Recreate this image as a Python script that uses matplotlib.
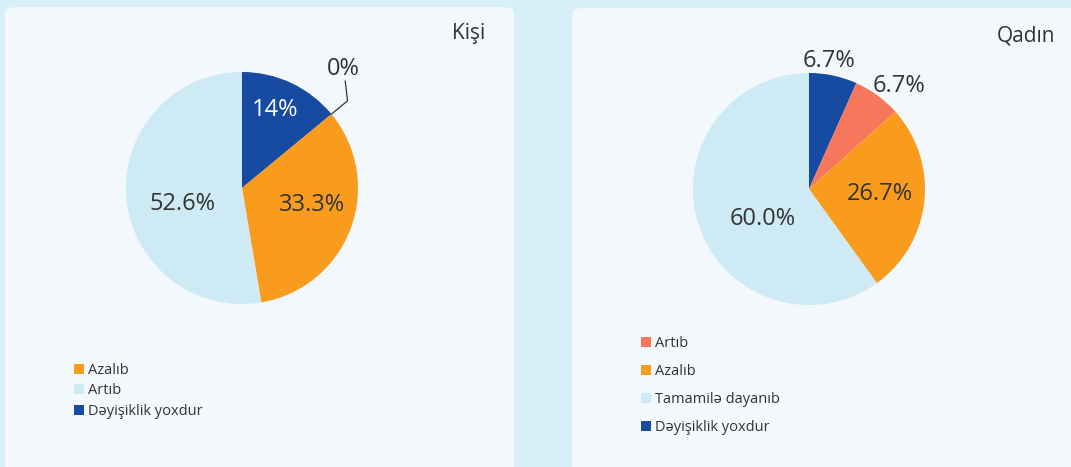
import numpy as np
import matplotlib.pyplot as plt
from matplotlib.patches import FancyBboxPatch

plt.rcParams['font.family'] = ['Open Sans', 'DejaVu Sans']

# Kişi
kisi_labels = ['Dəyişiklik yoxdur', 'Tamamilə dayanıb', 'Azalıb', 'Artıb']
kisi_values = [14.0, 0.0, 33.3, 52.6]
kisi_text = ['14%', '0%', '33.3%', '52.6%']
kisi_legend = ['Azalıb', 'Artıb', 'Dəyişiklik yoxdur']

# Qadın
qadin_labels = ['Dəyişiklik yoxdur', 'Artıb', 'Azalıb', 'Tamamilə dayanıb']
qadin_values = [6.7, 6.7, 26.7, 60.0]
qadin_text = ['6.7%', '6.7%', '26.7%', '60.0%']
qadin_legend = ['Artıb', 'Azalıb', 'Tamamilə dayanıb', 'Dəyişiklik yoxdur']

renk = {'Dəyişiklik yoxdur': '#174aa1', 'Azalıb': '#f99b1c',
        'Tamamilə dayanıb': '#f7775c', 'Artıb': '#cdeaf5'}
renk_q = {'Dəyişiklik yoxdur': '#174aa1', 'Azalıb': '#f99b1c',
          'Artıb': '#f7775c', 'Tamamilə dayanıb': '#cdeaf5'}

W, H = 1071, 467
fig = plt.figure(figsize=(W / 100, H / 100), dpi=100)
fig.patch.set_facecolor('#d7eff9')

# kartlar
for x0, x1, y0 in [(5, 514, 7), (572, 1090, 8)]:
    kart = FancyBboxPatch((x0 / W, 0 - 0.05), (x1 - x0) / W, (H - y0) / H + 0.05,
                          boxstyle='round,pad=0,rounding_size=0.012',
                          transform=fig.transFigure, facecolor='#f3f8fc',
                          edgecolor='none', zorder=-5)
    fig.patches.append(kart)

R = 116
S = 1.5


def pasta(cx, cy, values, labels, colors, texts, dist, nudge, icerde):
    ax = fig.add_axes([(cx - R * S) / W, 1 - (cy + R * S) / H, 2 * R * S / W, 2 * R * S / H])
    ax.set_zorder(2)
    wedges, _ = ax.pie(values, colors=[colors[l] for l in labels], startangle=90,
                       counterclock=False, radius=1, wedgeprops=dict(linewidth=0))
    ax.set_xlim(-S, S)
    ax.set_ylim(-S, S)
    ax.axis('off')
    for w, t, d, n, ic in zip(wedges, texts, dist, nudge, icerde):
        a = np.deg2rad((w.theta1 + w.theta2) / 2 + n)
        x, y = d * np.cos(a), d * np.sin(a)
        ax.text(x, y, t, ha='center', va='center', fontsize=17,
                color='white' if ic == 'w' else '#333333')
    return ax, wedges


ax1, w1 = pasta(242, 188, kisi_values, kisi_labels, renk, kisi_text,
                [0.73, 0, 0.62, 0.53], [2, 0, 7, 10], ['w', 'd', 'd', 'd'])
# 0% etiketi xətt ilə
for t in ax1.texts:
    if t.get_text() == '0%':
        t.remove()
a0 = np.deg2rad(w1[1].theta1)
ex, ey = 1.18 * np.cos(a0), 1.18 * np.sin(a0)
ax1.plot([np.cos(a0), ex, ex - 0.02], [np.sin(a0), ey, ey + 0.17], color='#333333', lw=0.9)
ax1.text(ex - 0.04, ey + 0.17, '0%', ha='center', va='bottom', fontsize=17, color='#333333')

ax2, w2 = pasta(809, 189, qadin_values, qadin_labels, renk_q, qadin_text,
                [1.12, 1.18, 0.61, 0.48], [3, -5, 2, 15], ['d', 'd', 'd', 'd'])

fig.text(485 / W, 1 - 33 / H, 'Kişi', ha='right', va='center', fontsize=15, color='#333333')
fig.text(1055 / W, 1 - 36 / H, 'Qadın', ha='right', va='center', fontsize=15, color='#333333')

h1 = [w1[kisi_labels.index(l)] for l in kisi_legend]
fig.legend(h1, kisi_legend, loc='upper left', bbox_to_anchor=(68 / W, 1 - 357 / H),
           frameon=False, fontsize=10.5, handlelength=0.7, handleheight=0.7,
           handletextpad=0.3, labelspacing=0.38, borderaxespad=0, labelcolor='#333333')
h2 = [w2[qadin_labels.index(l)] for l in qadin_legend]
fig.legend(h2, qadin_legend, loc='upper left', bbox_to_anchor=(635 / W, 1 - 330 / H),
           frameon=False, fontsize=10.5, handlelength=0.7, handleheight=0.7,
           handletextpad=0.3, labelspacing=0.9, borderaxespad=0, labelcolor='#333333')

fig.savefig('out.png', dpi=100, facecolor=fig.get_facecolor())
